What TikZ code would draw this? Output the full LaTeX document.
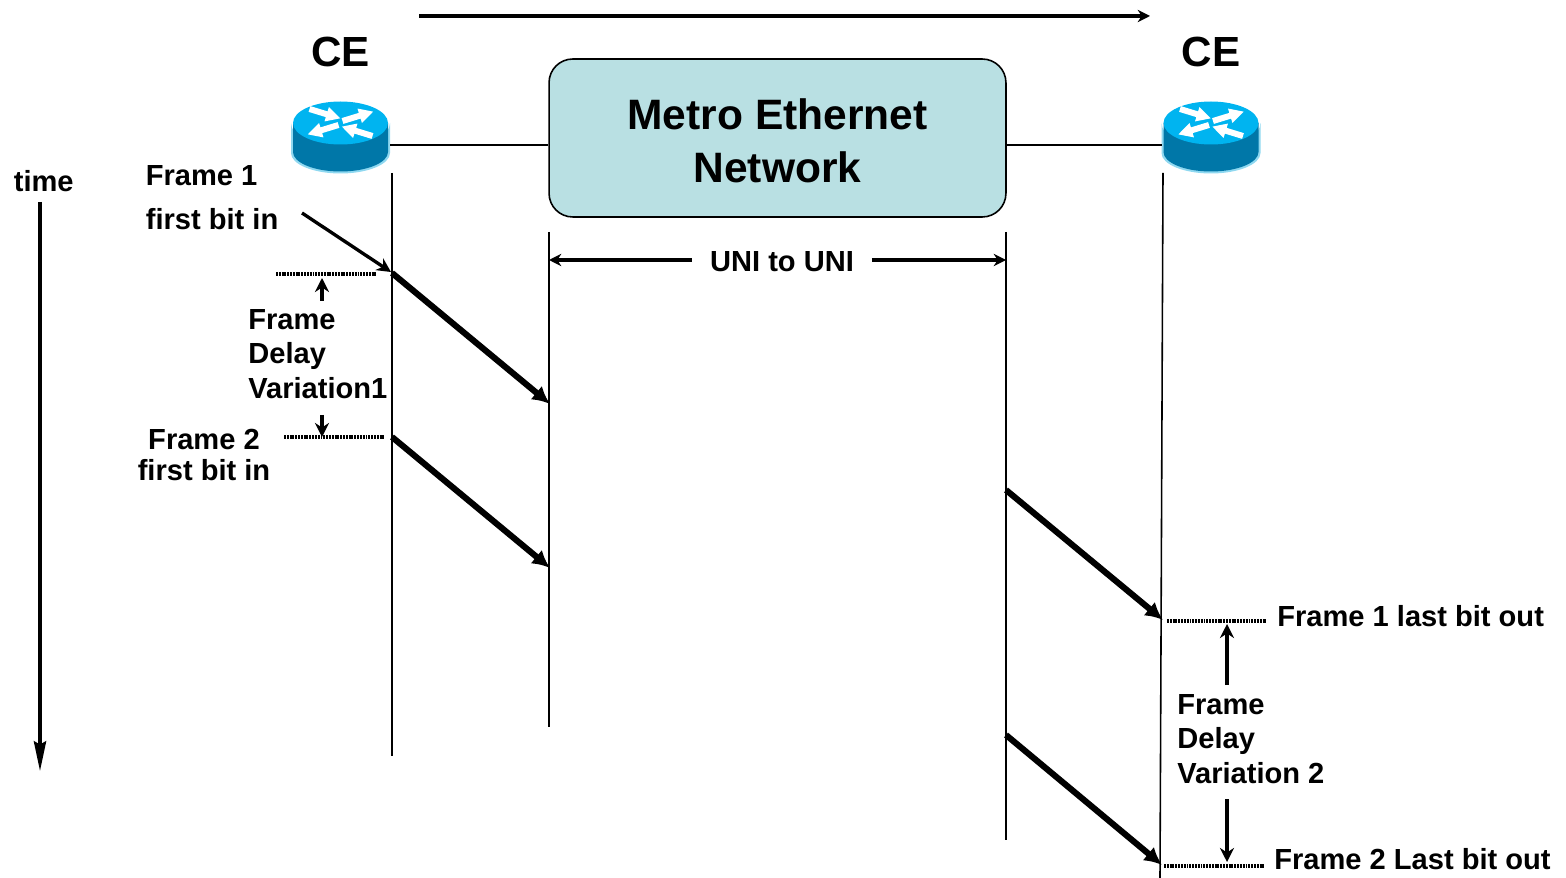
\documentclass[tikz,border=0pt]{standalone}
\usepackage{fontspec}
\setmainfont{Liberation Sans}
\usetikzlibrary{arrows.meta}
\definecolor{cloudfill}{HTML}{B9E0E3}
\definecolor{routertop}{HTML}{00B4F0}
\definecolor{routerside}{HTML}{0077A8}
\definecolor{routerrim}{HTML}{8FD8F0}
\begin{document}
\begin{tikzpicture}[
  x=0.02cm, y=-0.02cm,
  lbl/.style={font=\bfseries\fontsize{16.55}{19}\selectfont, inner sep=0pt, anchor=base west},
  ce/.style={font=\bfseries\fontsize{24}{28}\selectfont, inner sep=0pt},
  net/.style={draw, line width=0.9pt, rounded corners=13.5pt, fill=cloudfill, align=center,
    font=\bfseries\fontsize{24.2}{30}\selectfont},
  life/.style={line width=0.9pt},
  link/.style={line width=1.6pt},
  frame/.style={line width=3.5pt, -{Latex[length=10pt,width=10pt]}},
  thin arrow/.style={line width=1.8pt, -{Stealth[length=8pt,width=8pt]}},
  dots/.style={line width=1.9pt, dash pattern=on 1.1pt off 0.5pt},
  router/.pic={
    \fill[routerrim] (-49.5,0) -- (-49.5,30) arc[start angle=180,end angle=0,x radius=49.5,y radius=20.5] -- (49.5,0)
      arc[start angle=0,end angle=180,x radius=49.5,y radius=23.5] -- cycle;
    \fill[routerside] (-47.5,0) -- (-47.5,29) arc[start angle=180,end angle=0,x radius=47.5,y radius=19.5] -- (47.5,0) -- cycle;
    \fill[routertop] (0,0) ellipse[x radius=47.5,y radius=21.5];
    \foreach \tx/\ty/\ang in {-31/-14/-17, 2/-2/17, -2/2/197, 32/13/163}
      \fill[white, shift={(\tx,\ty)}, rotate=\ang] (0,-3) -- (18,-3) -- (18,-7.5) -- (32,0) -- (18,7.5) -- (18,3) -- (0,3) -- cycle;
  }
]
\useasboundingbox (0,0) rectangle (1566,878);

% network
\node[net, minimum width=9.14cm, minimum height=3.16cm] (cloud) at (777.5,138) {\rule{0pt}{20.5pt}Metro Ethernet\\Network};

% routers
\pic (routerL) at (340.5,123) {router};
\pic (routerR) at (1211,123) {router};
\node[ce] (ceL) at (340.5,52) {CE};
\node[ce] (ceR) at (1211,52) {CE};
\coordinate (portL) at (390,145);
\coordinate (portR) at (1162,145);
\draw[link] (portL) -- (cloud.west |- portL);
\draw[link] (cloud.east |- portR) -- (portR);

% direction and time
\coordinate (dirA) at (419,16);
\coordinate (dirB) at (1150,16);
\draw[line width=1.8pt, -{Stealth[length=7pt,width=7pt]}] (dirA) -- (dirB);
\node[lbl] (timeL) at (13.5,192) {time};
\coordinate (timeA) at (40,202);
\coordinate (timeB) at (40,771);
\draw[line width=1.8pt, -{Stealth[length=17pt,width=7pt,inset=2pt]}] (timeA) -- (timeB);

% life lines
\coordinate (lifeAt) at (392,173);
\coordinate (lifeAb) at (392,756);
\coordinate (lifeBt) at (549,232);
\coordinate (lifeBb) at (549,727);
\coordinate (lifeCt) at (1006,232);
\coordinate (lifeCb) at (1006,840);
\coordinate (lifeDt) at (1163,173);
\coordinate (lifeDb) at (1160,878);
\draw[life] (lifeAt) -- (lifeAb);
\draw[life] (lifeBt) -- (lifeBb);
\draw[life] (lifeCt) -- (lifeCb);
\draw[life] (lifeDt) -- (lifeDb);

% frames
\coordinate (f1a) at (392,273);
\coordinate (f1b) at (550,404);
\coordinate (f2a) at (392,437);
\coordinate (f2b) at (550,568);
\coordinate (f3a) at (1006,490);
\coordinate (f3b) at (1163,620);
\coordinate (f4a) at (1006,735);
\coordinate (f4b) at (1162,865);
\draw[frame] (f1a) -- (f1b);
\draw[frame] (f2a) -- (f2b);
\draw[frame] (f3a) -- (f3b);
\draw[frame] (f4a) -- (f4b);

% UNI span
\node[lbl, anchor=center, fill=white, inner xsep=10pt, inner ysep=2pt] (uni) at (782,262) {UNI to UNI};
\coordinate (uniL) at (549,260);
\coordinate (uniR) at (1006,260);
\draw[line width=1.8pt, {Stealth[length=7pt,width=7pt]}-] (uniL) -- (uni.west |- uniL);
\draw[line width=1.8pt, -{Stealth[length=7pt,width=7pt]}] (uni.east |- uniR) -- (uniR);

% left labels
\node[lbl] (f1in) at (145.5,186) {Frame 1};
\node[lbl] (f1bit) at (145.5,230) {first bit in};
\coordinate (f1tail) at (302,213);
\coordinate (f1head) at (391,272);
\draw[line width=1.9pt, -{Stealth[length=8pt,width=8pt]}] (f1tail) -- (f1head);
\coordinate (d1a) at (276,274);
\coordinate (d1b) at (376,274);
\draw[dots] (d1a) -- (d1b);
\coordinate (d2a) at (284,437);
\coordinate (d2b) at (384,437);
\draw[dots] (d2a) -- (d2b);
\node[lbl] (fdvA) at (248,330) {Frame};
\node[lbl] (fdvB) at (248,364) {Delay};
\node[lbl] (fdvC) at (248,399) {Variation1};
\coordinate (up1a) at (322,301);
\coordinate (up1b) at (322,278);
\coordinate (dn1a) at (322,415);
\coordinate (dn1b) at (322,437);
\draw[thin arrow] (up1a) -- (up1b);
\draw[thin arrow] (dn1a) -- (dn1b);
\node[lbl, anchor=base] (f2in) at (204,450) {Frame 2};
\node[lbl, anchor=base] (f2bit) at (204,480) {first bit in};

% right labels
\coordinate (d3a) at (1167,621);
\coordinate (d3b) at (1266,621);
\draw[dots] (d3a) -- (d3b);
\coordinate (d4a) at (1164,866);
\coordinate (d4b) at (1264,866);
\draw[dots] (d4a) -- (d4b);
\node[lbl] (f1out) at (1277,626) {Frame 1 last bit out};
\node[lbl] (f2out) at (1274,869) {Frame 2 Last bit out};
\node[lbl] (fdvD) at (1177,714) {Frame};
\node[lbl] (fdvE) at (1177,748) {Delay};
\node[lbl] (fdvF) at (1177,783) {Variation 2};
\coordinate (up2a) at (1227,685);
\coordinate (up2b) at (1227,624);
\coordinate (dn2a) at (1227,799);
\coordinate (dn2b) at (1227,862);
\draw[thin arrow] (up2a) -- (up2b);
\draw[thin arrow] (dn2a) -- (dn2b);
\end{tikzpicture}
\end{document}
